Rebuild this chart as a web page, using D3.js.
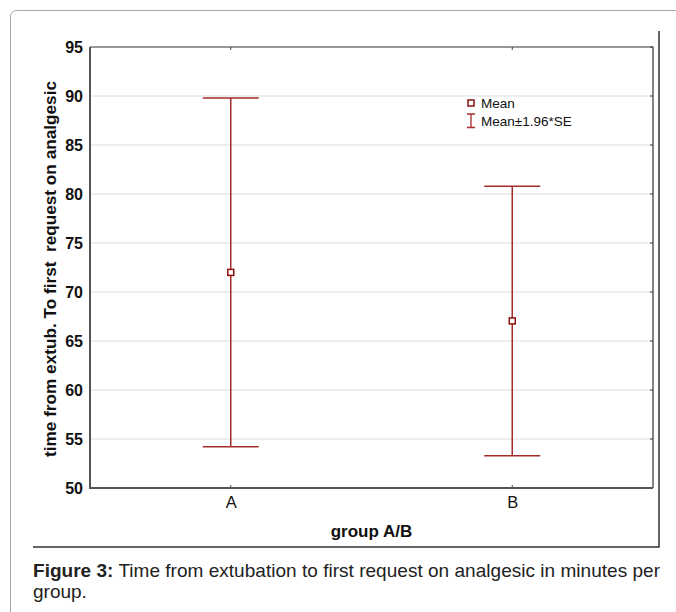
<!DOCTYPE html>
<html lang="en">
<head>
<meta charset="UTF-8">
<title>Figure 3</title>
<script src="https://cdnjs.cloudflare.com/ajax/libs/d3/7.8.5/d3.min.js"></script>
<style>
    body { margin: 0; background: #fff; font-family: 'Liberation Sans', Arial, sans-serif; }
</style>
</head>
<body>
<div id="chart"></div>
<script>
    // Chart data
    const groups = ['A', 'B'];
    const means  = [72.0, 67.05];
    const lower  = [54.2, 53.3];   // mean - 1.96*SE
    const upper  = [89.8, 80.8];   // mean + 1.96*SE
    const yTicks = [50, 55, 60, 65, 70, 75, 80, 85, 90, 95];

    const W = 676, H = 612;
    const plot = { left: 90, right: 653, top: 47, bottom: 488 };
    const red = '#a52a2a';

    const svg = d3.select('#chart').append('svg')
        .attr('width', W)
        .attr('height', H);

    // page frame (rounded, gray) and figure image border
    svg.append('rect')
        .attr('x', 10.5).attr('y', 10.5)
        .attr('width', W + 20).attr('height', H + 20)
        .attr('rx', 6)
        .attr('fill', 'none')
        .attr('stroke', '#a8a8a8')
        .attr('stroke-width', 1);

    svg.append('path')
        .attr('d', 'M33,547 H659 V31')
        .attr('fill', 'none')
        .attr('stroke', '#333')
        .attr('stroke-width', 1.5);

    const x = d3.scalePoint()
        .domain(groups)
        .range([plot.left, plot.right])
        .padding(0.5);

    const y = d3.scaleLinear()
        .domain([50, 95])
        .range([plot.bottom, plot.top]);

    // gridlines
    svg.append('g')
        .selectAll('line')
        .data(yTicks.filter(d => d > 50 && d < 95))
        .join('line')
        .attr('x1', plot.left).attr('x2', plot.right)
        .attr('y1', d => y(d)).attr('y2', d => y(d))
        .attr('stroke', '#dcdcdc')
        .attr('stroke-width', 1);

    // y axis labels
    const yAxis = d3.axisLeft(y).tickValues(yTicks).tickSize(0).tickPadding(7);
    const gy = svg.append('g')
        .attr('transform', `translate(${plot.left},0)`)
        .call(yAxis);
    gy.select('.domain').remove();
    gy.selectAll('text')
        .attr('font-family', "'Liberation Sans', Arial, sans-serif")
        .attr('font-size', 16)
        .attr('font-weight', 'bold')
        .attr('fill', '#111');

    // x axis labels
    const xAxis = d3.axisBottom(x).tickSize(0).tickPadding(8);
    const gx = svg.append('g')
        .attr('transform', `translate(0,${plot.bottom})`)
        .call(xAxis);
    gx.select('.domain').remove();
    gx.selectAll('text')
        .attr('font-family', "'Liberation Sans', Arial, sans-serif")
        .attr('font-size', 16.5)
        .attr('fill', '#111');

    // small inward ticks
    const tickG = svg.append('g').attr('stroke', '#444').attr('stroke-width', 1);
    groups.forEach(g => {
        tickG.append('line').attr('x1', x(g)).attr('x2', x(g)).attr('y1', plot.top).attr('y2', plot.top + 3);
        tickG.append('line').attr('x1', x(g)).attr('x2', x(g)).attr('y1', plot.bottom).attr('y2', plot.bottom - 3);
    });
    yTicks.forEach(t => {
        tickG.append('line').attr('x1', plot.right).attr('x2', plot.right - 3).attr('y1', y(t)).attr('y2', y(t));
    });

    // plot frame
    svg.append('path')
        .attr('d', `M${plot.left},${plot.top} H${plot.right} V${plot.bottom}`)
        .attr('fill', 'none')
        .attr('stroke', '#333')
        .attr('stroke-width', 1.2);
    svg.append('path')
        .attr('d', `M${plot.left},${plot.top} V${plot.bottom} H${plot.right}`)
        .attr('fill', 'none')
        .attr('stroke', '#555')
        .attr('stroke-width', 2);

    // error bars
    const capW = 28;
    const bars = svg.append('g')
        .selectAll('g')
        .data(groups.map((g, i) => ({ g, mean: means[i], lo: lower[i], hi: upper[i] })))
        .join('g')
        .attr('stroke', red)
        .attr('stroke-width', 1.5);

    bars.append('line')
        .attr('x1', d => x(d.g)).attr('x2', d => x(d.g))
        .attr('y1', d => y(d.hi)).attr('y2', d => y(d.lo));
    bars.append('line')
        .attr('x1', d => x(d.g) - capW).attr('x2', d => x(d.g) + capW)
        .attr('y1', d => y(d.hi)).attr('y2', d => y(d.hi));
    bars.append('line')
        .attr('x1', d => x(d.g) - capW).attr('x2', d => x(d.g) + capW)
        .attr('y1', d => y(d.lo)).attr('y2', d => y(d.lo));
    bars.append('rect')
        .attr('x', d => x(d.g) - 3).attr('y', d => y(d.mean) - 3)
        .attr('width', 6).attr('height', 6)
        .attr('fill', '#fff')
        .attr('stroke', '#8b1010');

    // legend
    const leg = svg.append('g').attr('transform', 'translate(471,0)');
    leg.append('rect')
        .attr('x', -3).attr('y', 100).attr('width', 6).attr('height', 6)
        .attr('fill', '#fff').attr('stroke', '#8b1010').attr('stroke-width', 1.5);
    leg.append('path')
        .attr('d', 'M-4,114 H4 M0,114 V127.5 M-4,127.5 H4')
        .attr('stroke', red).attr('stroke-width', 1.3).attr('fill', 'none');
    leg.append('text')
        .attr('x', 10).attr('y', 108)
        .attr('font-size', 13.5).attr('fill', '#111')
        .text('Mean');
    leg.append('text')
        .attr('x', 10).attr('y', 126)
        .attr('font-size', 13.5).attr('fill', '#111')
        .text('Mean\u00b11.96*SE');

    // axis titles
    svg.append('text')
        .attr('x', (plot.left + plot.right) / 2)
        .attr('y', 537)
        .attr('text-anchor', 'middle')
        .attr('font-size', 17)
        .attr('font-weight', 'bold')
        .attr('fill', '#111')
        .text('group A/B');

    svg.append('text')
        .attr('transform', 'translate(55.5,269) rotate(-90)')
        .attr('text-anchor', 'middle')
        .attr('font-size', 17.2)
        .attr('font-weight', 'bold')
        .attr('fill', '#111')
        .attr('xml:space', 'preserve')
        .style('white-space', 'pre')
        .text('time from extub. To first  request on analgesic');

    // caption
    const cap1 = svg.append('text')
        .attr('x', 33).attr('y', 577)
        .attr('font-size', 19)
        .attr('fill', '#222');
    cap1.append('tspan').attr('font-weight', 'bold').text('Figure 3:');
    cap1.append('tspan').text(' Time from extubation to first request on analgesic in minutes per');
    cap1.attr('textLength', 627).attr('lengthAdjust', 'spacing');

    svg.append('text')
        .attr('x', 33).attr('y', 598)
        .attr('font-size', 19)
        .attr('fill', '#222')
        .text('group.');
</script>
</body>
</html>
